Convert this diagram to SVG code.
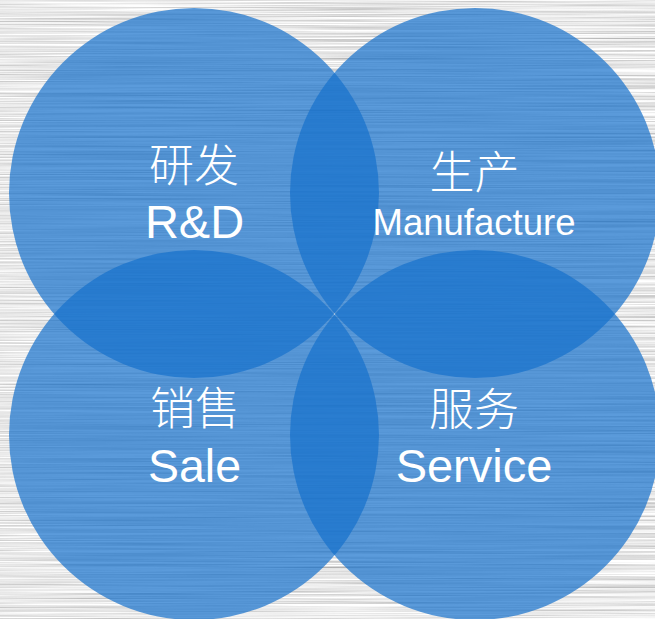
<svg xmlns="http://www.w3.org/2000/svg" width="655" height="619" viewBox="0 0 655 619">
<defs>
<filter id="brush" x="0" y="0" width="1" height="1" filterUnits="objectBoundingBox">
<feTurbulence type="fractalNoise" baseFrequency="0.004 0.7" numOctaves="3" seed="7" result="n"/>
<feColorMatrix in="n" type="matrix" values="0.9 0 0 0 0.36  0.9 0 0 0 0.36  0.9 0 0 0 0.36  0 0 0 0 1"/>
</filter>
<style>
.c{fill:#1670cc;fill-opacity:0.7}
.zh{font-family:"Noto Sans CJK SC","Noto Sans",sans-serif;font-size:45px;fill:#ffffff;text-anchor:middle;font-weight:300}
.en{font-family:"Liberation Sans",Arial,sans-serif;fill:#ffffff;text-anchor:middle}
</style>
</defs>
<rect x="0" y="0" width="655" height="619" fill="#cccccc"/>
<rect x="0" y="0" width="655" height="619" filter="url(#brush)"/>
<g id="rd">
<circle class="c" cx="194" cy="193" r="185"/>
<text class="zh" x="194" y="182">研发</text>
<text class="en" x="194.5" y="238" font-size="47">R&amp;D</text>
</g>
<g id="manufacture">
<circle class="c" cx="475" cy="193" r="185"/>
<text class="zh" x="474.5" y="189">生产</text>
<text class="en" x="474" y="235" font-size="36.5">Manufacture</text>
</g>
<g id="sale">
<circle class="c" cx="194" cy="435" r="185"/>
<text class="zh" x="195" y="425">销售</text>
<text class="en" x="194.5" y="482" font-size="46.5">Sale</text>
</g>
<g id="service">
<circle class="c" cx="475" cy="435" r="185"/>
<text class="zh" x="474" y="426">服务</text>
<text class="en" x="474" y="482" font-size="47">Service</text>
</g>
</svg>
